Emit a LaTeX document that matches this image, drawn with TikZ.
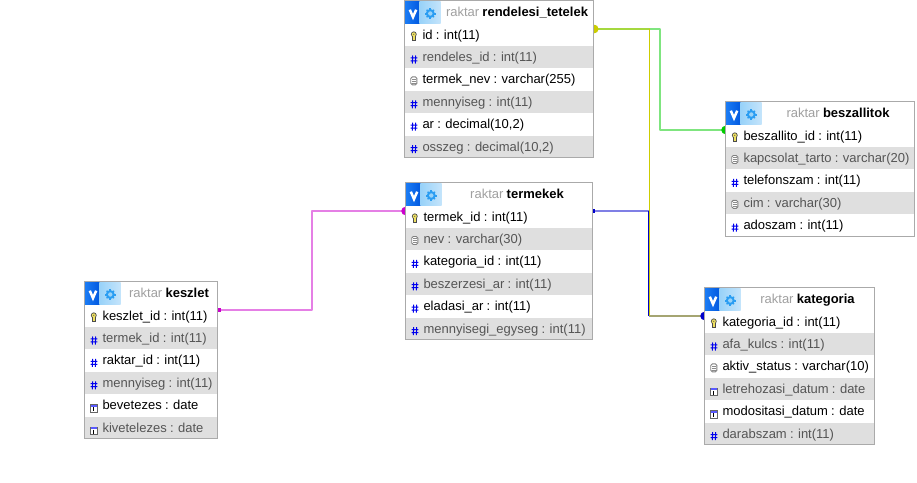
\documentclass[tikz,border=0pt]{standalone}
\usepackage{fontspec}
\setmainfont{Liberation Sans}[WordSpace=0.9]
\usetikzlibrary{calc}
\definecolor{rowtint}{HTML}{DFDFDF}
\definecolor{frameg}{HTML}{AAAAAA}
\definecolor{dimtxt}{HTML}{555555}
\definecolor{schema}{HTML}{A0A0A0}
\definecolor{gearfg}{HTML}{2A9DF2}
\definecolor{gearbgA}{HTML}{98D2F9}
\definecolor{gearbgB}{HTML}{C4E4FB}
\definecolor{vblueA}{HTML}{1C7CF4}
\definecolor{vblueB}{HTML}{0058E0}
\definecolor{hashb}{HTML}{0000EE}
\definecolor{lnG}{HTML}{00CC00}
\definecolor{lnY}{HTML}{CCCC00}
\definecolor{lnB}{HTML}{0000CC}
\definecolor{lnM}{HTML}{CC00CC}
\definecolor{keyy}{HTML}{EEE060}
\pgfdeclarelayer{conn}
\pgfsetlayers{conn,main}
\tikzset{
 framebox/.style={anchor=north west,inner sep=0,outer sep=0,fill=white},
 rowbox/.style={anchor=north west,inner sep=0,outer sep=0},
 rowtext/.style={anchor=base west,inner sep=0,outer sep=0,font=\fontsize{13}{14}\selectfont},
 titletext/.style={anchor=base,inner sep=0,outer sep=0,font=\fontsize{13}{14}\selectfont},
 soft/.style={line width=2pt,opacity=.5},
 firm/.style={line width=1pt},
 endsq/.style={minimum size=3.5pt,inner sep=0,outer sep=0,draw=none},
 enddot/.style={circle,minimum size=8.5pt,inner sep=0,outer sep=0,draw=none},
}
% row icons, drawn relative to the row's top-left corner
\newcommand{\icok}{%
 \fill[black!70] (9.3,10.8) circle (2.9);
 \fill[keyy] (9.3,10.8) circle (2);
 \fill[black!70] (9.3,10.8) circle (.6);
 \fill[black!70] (7.6,12.5) rectangle (11,17);
 \fill[keyy] (8.5,12.6) rectangle (10,16.3);
}
\newcommand{\icon}{%
 \draw[hashb,line width=1pt] (6.2,12)--(12.8,12) (6.2,15)--(12.8,15) (8.2,9.6)--(7.8,17.6) (11.2,9.6)--(10.8,17.6);
}
\newcommand{\icot}{%
 \draw[black!50,fill=white,line width=.9pt,rounded corners=1.6pt] (6.2,8.6) rectangle (12.4,16.6);
 \draw[black!45,line width=.6pt] (7.6,10.6)--(11,10.6) (7.6,12.6)--(11,12.6) (7.6,14.6)--(11,14.6);
}
\newcommand{\icod}{%
 \draw[black!60,fill=white,line width=.8pt] (6,10.5) rectangle (12.6,18);
 \fill[blue!65] (6,10.5) rectangle (12.6,12.5);
 \draw[black,line width=.9pt] (9.4,13)--(9.4,17);
}
% \dbtable{id}{x}{y}{width}{title}{rows}
\newcommand{\dbtable}[6]{%
 \begin{scope}[shift={(#2,#3)}]
  \foreach \kk/\tt [count=\ii] in {#6}{\xdef\lastrow{\ii}}
  \pgfmathsetmacro{\hh}{23+22.4*\lastrow}
  \node[framebox,minimum width=#4pt,minimum height=\hh pt] (#1) at (0,0) {};
  \foreach \kk/\tt [count=\ii] in {#6}{
   \pgfmathsetmacro{\yy}{23+22.4*(\ii-1)}
   \pgfmathparse{int(mod(\ii,2))}
   \ifnum\pgfmathresult=0
    \node[rowbox,fill=rowtint,minimum width=#4pt,minimum height=22.4pt] (#1r\ii) at (0,\yy) {};
    \node[rowtext,text=dimtxt] (#1t\ii) at (18,\yy+15.6) {\tt};
   \else
    \node[rowbox,minimum width=#4pt,minimum height=22.4pt] (#1r\ii) at (0,\yy) {};
    \node[rowtext,text=black] (#1t\ii) at (18,\yy+15.6) {\tt};
   \fi
   \begin{scope}[shift={(0,\yy)}]
    \csname ico\kk\endcsname
   \end{scope}
  }
  \draw[frameg,line width=1pt] (#1.north west) rectangle (#1.south east);
  % header icons
  \shade[left color=vblueA,right color=vblueB] (.5,.5) rectangle (15,22.5);
  \shade[left color=gearbgA,right color=gearbgB] (15,.5) rectangle (36,22.5);
  \draw[white,line width=2.5pt] (5.3,9.2)--(8.5,16.6)--(11.7,9.2);
  \fill[gearfg] (25.8,13) circle (4.5);
  \foreach \aa in {0,90,180,270}{\draw[gearfg,line width=2pt] (25.8,13) -- ++(\aa:5.6);}
  \foreach \aa in {45,135,225,315}{\draw[gearfg,line width=1.4pt] (25.8,13) -- ++(\aa:5.2);}
  \fill[gearbgA] (25.8,13) circle (2.2);
  \pgfmathsetmacro{\cx}{(#4+36)/2}
  \node[titletext] (#1h) at (\cx,16.4) {\textcolor{schema}{raktar} \textbf{#5}};
 \end{scope}
}
\begin{document}
\begin{tikzpicture}[x=1pt,y=-1pt]
\useasboundingbox (0,0) rectangle (917,482);
% tables
\dbtable{rt}{404.5}{0.5}{189}{rendelesi\_tetelek}{k/id : int(11),n/rendeles\_id : int(11),t/termek\_nev : varchar(255),n/mennyiseg : int(11),n/{ar : decimal(10,2)},n/{osszeg : decimal(10,2)}}
\dbtable{te}{405.5}{182.5}{187}{termekek}{k/termek\_id : int(11),t/nev : varchar(30),n/kategoria\_id : int(11),n/beszerzesi\_ar : int(11),n/eladasi\_ar : int(11),n/mennyisegi\_egyseg : int(11)}
\dbtable{ke}{84.5}{281.5}{133}{keszlet}{k/keszlet\_id : int(11),n/termek\_id : int(11),n/raktar\_id : int(11),n/mennyiseg : int(11),d/bevetezes : date,d/kivetelezes : date}
\dbtable{bs}{725.5}{101.5}{189}{beszallitok}{k/beszallito\_id : int(11),t/kapcsolat\_tarto : varchar(20),n/telefonszam : int(11),t/cim : varchar(30),n/adoszam : int(11)}
\dbtable{ka}{704.5}{287.5}{170}{kategoria}{k/kategoria\_id : int(11),n/afa\_kulcs : int(11),t/aktiv\_status : varchar(10),d/letrehozasi\_datum : date,d/modositasi\_datum : date,n/darabszam : int(11)}
\begin{pgfonlayer}{conn}
 \fill[white] (0,0) rectangle (917,482);
 % connection points, in the upper part of each key row
 \coordinate (rtA) at ([yshift=-5.5pt]rtr1.north east);
 \coordinate (bsA) at ([yshift=-5.5pt]bsr1.north west);
 \coordinate (teE) at ([yshift=-5.5pt]ter1.north east);
 \coordinate (teW) at ([yshift=-5.5pt]ter1.north west);
 \coordinate (kaA) at ([yshift=-5.5pt]kar1.north west);
 \coordinate (keA) at ([yshift=-5.5pt]ker1.north east);
 % bends
 \coordinate (busG) at (660,0);
 \coordinate (busY) at (649.5,0);
 \coordinate (busB) at (648.9,0);
 \coordinate (busM) at (312,0);
 % rendelesi_tetelek -- beszallitok
 \draw[soft,lnG,line join=round] (rtA) -- (rtA -| busG) -- (bsA -| busG) -- (bsA);
 % termekek -- kategoria
 \draw[soft,lnB] (kaA -| busB) -- (kaA);
 % rendelesi_tetelek -- kategoria
 \draw[soft,lnY] (rtA) -- (rtA -| busY);
 \draw[firm,lnY] (rtA -| busY) -- (kaA -| busY);
 \draw[soft,lnY] (kaA -| busY) -- (kaA);
 % termekek -- kategoria, upper part over the yellow line
 \draw[soft,lnB] (teE) -- (teE -| busB);
 \draw[firm,lnB] (teE -| busB) -- (kaA -| busB);
 % keszlet -- termekek
 \draw[soft,lnM,line join=round] (keA) -- (keA -| busM) -- (teW -| busM) -- (teW);
 \node[enddot,fill=lnG] (dotG) at (bsA) {};
 \node[enddot,fill=lnG] (dotGs) at (rtA) {};
 \node[enddot,fill=lnY] (dotYs) at ([xshift=.8pt]rtA) {};
 \node[enddot,fill=lnB] (dotB) at (kaA) {};
 \node[enddot,fill=lnM] (dotM) at (teW) {};
 \node[endsq,fill=lnB] (sqB) at ([xshift=1.2pt]teE) {};
 \node[endsq,fill=lnM] (sqM) at ([xshift=1.5pt]keA) {};
\end{pgfonlayer}
\end{tikzpicture}
\end{document}
